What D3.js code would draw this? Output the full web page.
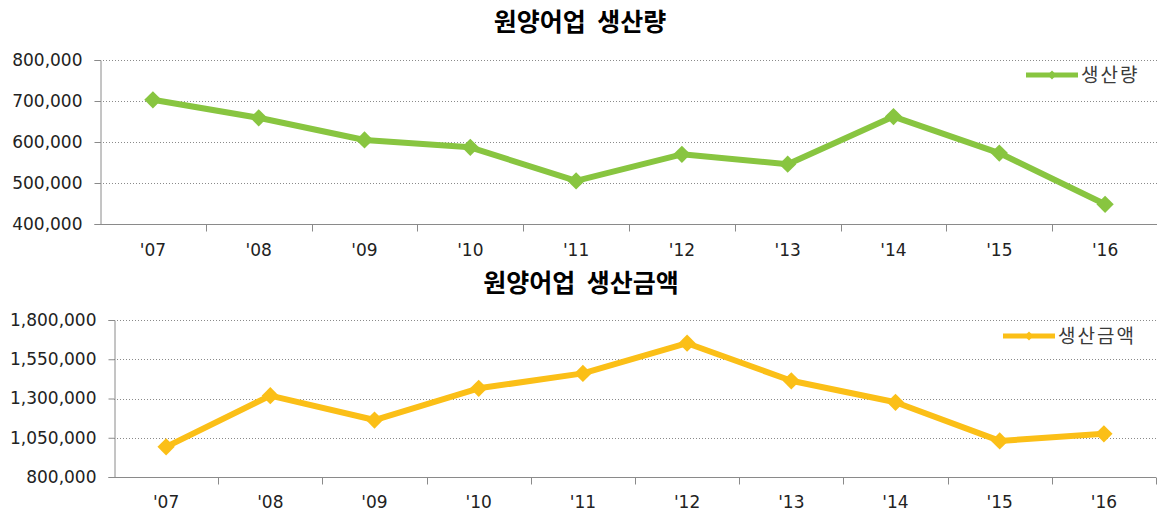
<!DOCTYPE html>
<html>
<head>
<meta charset="utf-8">
<script src="https://cdn.jsdelivr.net/npm/d3@7"></script>
<style>
  body { margin: 0; background: #fff; }
  text { font-family: "DejaVu Sans", Verdana, sans-serif; }
  .title, .legend { font-family: "Noto Sans CJK KR", sans-serif; }
</style>
</head>
<body>
<div id="chart"></div>
<script>
"use strict";

const WIDTH = 1157, HEIGHT = 514;

var years = ["'07", "'08", "'09", "'10", "'11", "'12", "'13", "'14", "'15", "'16"];
var production = [703000, 659000, 605000, 587000, 505000, 570000, 546000, 662000, 573000, 448000];
var productionValue = [992000, 1318000, 1163000, 1365000, 1460000, 1652000, 1413000, 1276000, 1030000, 1075000];
var productionTicks = [400000, 500000, 600000, 700000, 800000];
var valueTicks = [800000, 1050000, 1300000, 1550000, 1800000];

var svg = d3.select("#chart").append("svg")
  .attr("width", WIDTH)
  .attr("height", HEIGHT);

var fmt = d3.format(",");

// one panel: title, dotted grid, axes, line + diamonds, legend
var panel = function(opt) {
  var g = svg.append("g");

  var x = d3.scaleBand()
    .domain(years)
    .range([opt.left, opt.right]);
  var y = d3.scaleLinear()
    .domain([opt.ticks[0], opt.ticks[opt.ticks.length - 1]])
    .range([opt.bottom, opt.top]);

  g.append("text")
    .attr("class", "title")
    .attr("x", opt.titleX)
    .attr("y", opt.titleY)
    .attr("text-anchor", "middle")
    .attr("font-size", 25)
    .attr("font-weight", "bold")
    .attr("fill", "#000")
    .style("word-spacing", "6px")
    .text(opt.title);

  // grid
  g.selectAll(".grid")
    .data(opt.ticks.slice(1))
    .enter().append("line")
    .attr("x1", opt.left)
    .attr("x2", opt.right)
    .attr("y1", function(d) { return Math.round(y(d)) + 0.5; })
    .attr("y2", function(d) { return Math.round(y(d)) + 0.5; })
    .attr("stroke", "#8a8a8a")
    .attr("stroke-width", 1)
    .attr("stroke-dasharray", "1,2");

  var yAxis = g.append("g")
    .attr("transform", "translate(" + (opt.left + 0.5) + ",0)")
    .call(d3.axisLeft(y).tickValues(opt.ticks).tickFormat(fmt).tickSize(6).tickPadding(12));
  yAxis.select(".domain").attr("stroke", "#8a8a8a");
  yAxis.selectAll(".tick line").attr("stroke", "#8a8a8a");
  yAxis.selectAll("text")
    .attr("font-size", 17)
    .attr("fill", "#222")
    .attr("font-family", "DejaVu Sans, sans-serif");

  var xAxis = g.append("g")
    .attr("transform", "translate(0," + (opt.bottom + 0.5) + ")");
  xAxis.append("line")
    .attr("x1", opt.left)
    .attr("x2", opt.right)
    .attr("stroke", "#8a8a8a");
  xAxis.selectAll(".xtick")
    .data(years)
    .enter().append("line")
    .attr("x1", function(d) { return Math.round(x(d) + x.bandwidth()) + 0.5; })
    .attr("x2", function(d) { return Math.round(x(d) + x.bandwidth()) + 0.5; })
    .attr("y1", 0)
    .attr("y2", 7)
    .attr("stroke", "#8a8a8a");
  xAxis.selectAll(".xlabel")
    .data(years)
    .enter().append("text")
    .attr("x", function(d) { return x(d) + x.bandwidth() / 2; })
    .attr("y", opt.labelDy)
    .attr("text-anchor", "middle")
    .attr("font-size", 17)
    .attr("fill", "#222")
    .text(function(d) { return d; });

  var line = d3.line()
    .x(function(d, i) { return x(years[i]) + x.bandwidth() / 2; })
    .y(function(d) { return y(d); });

  g.append("path")
    .datum(opt.values)
    .attr("fill", "none")
    .attr("stroke", opt.color)
    .attr("stroke-width", 6)
    .attr("stroke-linejoin", "round")
    .attr("d", line);

  var diamond = d3.symbol().type(d3.symbolDiamond2).size(190);
  g.selectAll(".pt")
    .data(opt.values)
    .enter().append("path")
    .attr("transform", function(d, i) {
      return "translate(" + (x(years[i]) + x.bandwidth() / 2) + "," + y(d) + ")";
    })
    .attr("fill", opt.color)
    .attr("d", diamond);

  // legend
  g.append("line")
    .attr("x1", opt.legendX)
    .attr("x2", opt.legendX + 52)
    .attr("y1", opt.legendY)
    .attr("y2", opt.legendY)
    .attr("stroke", opt.color)
    .attr("stroke-width", 5);
  g.append("path")
    .attr("transform", "translate(" + (opt.legendX + 26) + "," + opt.legendY + ")")
    .attr("fill", opt.color)
    .attr("d", d3.symbol().type(d3.symbolDiamond2).size(50));
  g.append("text")
    .attr("class", "legend")
    .attr("x", opt.legendX + 55)
    .attr("y", opt.legendY)
    .attr("dy", "0.35em")
    .attr("font-size", 19)
    .attr("fill", "#3a3a3a")
    .style("letter-spacing", "2px")
    .text(opt.legend);
};

panel({
  title: "원양어업  생산량",
  titleX: 580, titleY: 31,
  left: 100, right: 1158, top: 60, bottom: 224,
  ticks: productionTicks,
  values: production,
  color: "#88C540",
  labelDy: 31,
  legend: "생산량",
  legendX: 1026, legendY: 75
});

panel({
  title: "원양어업  생산금액",
  titleX: 581, titleY: 292,
  left: 114, right: 1156, top: 320, bottom: 477,
  ticks: valueTicks,
  values: productionValue,
  color: "#FBBF17",
  labelDy: 30,
  legend: "생산금액",
  legendX: 1003, legendY: 336
});
</script>
</body>
</html>
